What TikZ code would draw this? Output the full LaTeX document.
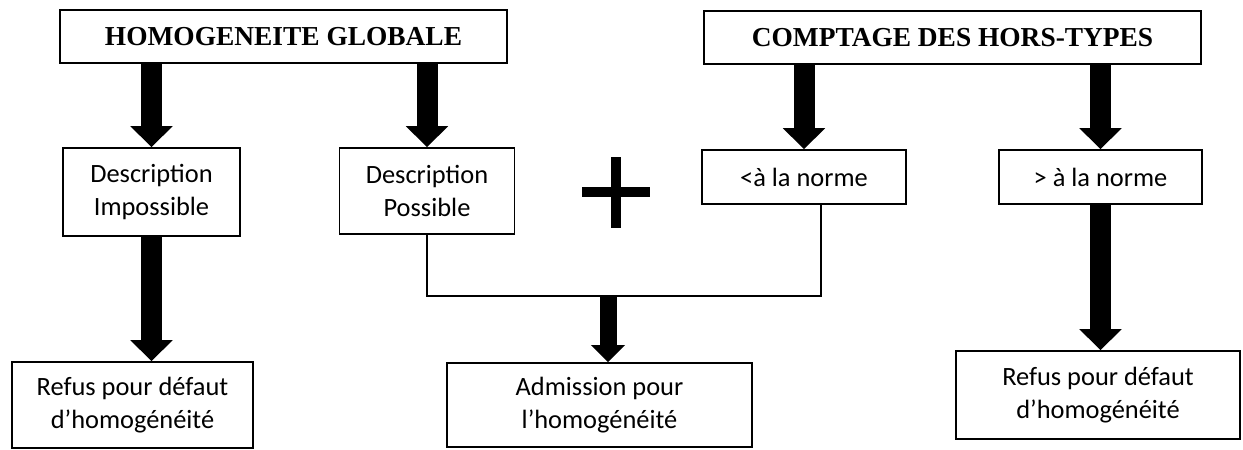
\documentclass[tikz,border=0pt]{standalone}
\usepackage{fontspec}
\setmainfont{Carlito}
\newfontfamily\titlefont{Liberation Serif}
\usetikzlibrary{arrows.meta}

\begin{document}
\begin{tikzpicture}[x=0.5pt, y=-0.5pt,
    box/.style = {draw, line width=0.8pt, inner sep=0pt, align=center, font=\fontsize{13.2}{16.5}\selectfont},
    title/.style = {box, font=\titlefont\bfseries\fontsize{13.7}{16}\selectfont},
    bigarrow/.style = {line width=10.5pt, -{Triangle[width=20.5pt,length=10.5pt]}},
    smallarrow/.style = {line width=8.5pt, -{Triangle[width=16.5pt,length=8.5pt]}}]
    \useasboundingbox (0,0) rectangle (1243,450);

    \node[title, minimum width=223.5pt, minimum height=26.5pt] (hg) at (283.5,36.5) {HOMOGENEITE GLOBALE};
    \node[title, minimum width=248.5pt, minimum height=26.5pt] (ct) at (952.5,37.5) {COMPTAGE DES HORS-TYPES};

    \node[box, minimum width=88.5pt, minimum height=44pt] (di) at (151.5,192) {Description\\Impossible};
    \node[box, minimum width=87.5pt, minimum height=43pt] (dp) at (427,191) {Description\\Possible};
    \node[box, minimum width=102pt, minimum height=27pt] (inf) at (804,177) {<à la norme};
    \node[box, minimum width=101.5pt, minimum height=27pt] (sup) at (1100.5,177) {> à la norme};

    \node[box, minimum width=120.5pt, minimum height=43pt] (rg) at (132.5,405) {Refus pour défaut\\d’homogénéité};
    \node[box, minimum width=152.5pt, minimum height=42pt] (ad) at (599.5,405) {Admission pour\\l’homogénéité};
    \node[box, minimum width=142pt, minimum height=44pt] (rd) at (1098,395) {Refus pour défaut\\d’homogénéité};

    \coordinate (plus) at (616,192);
    \coordinate (jct) at (608,296);

    \draw[bigarrow] (hg.south -| di) -- (di.north);
    \draw[bigarrow] (hg.south -| dp) -- (dp.north);
    \draw[bigarrow] (ct.south -| inf) -- (inf.north);
    \draw[bigarrow] (ct.south -| sup) -- (sup.north);
    \draw[bigarrow] (di.south) -- (di.south |- rg.north);
    \draw[bigarrow] (sup.south) -- (sup.south |- rd.north);

    \draw[line width=0.7pt] (dp.south) |- (jct) -| ([xshift=8.5pt]inf.south);
    \draw[smallarrow] (jct) -- (jct |- ad.north);

    % signe plus
    \draw[line width=5pt] ([xshift=-17pt]plus) -- ([xshift=17pt]plus)
        ([yshift=-17.75pt]plus) -- ([yshift=17.75pt]plus);
\end{tikzpicture}
\end{document}
